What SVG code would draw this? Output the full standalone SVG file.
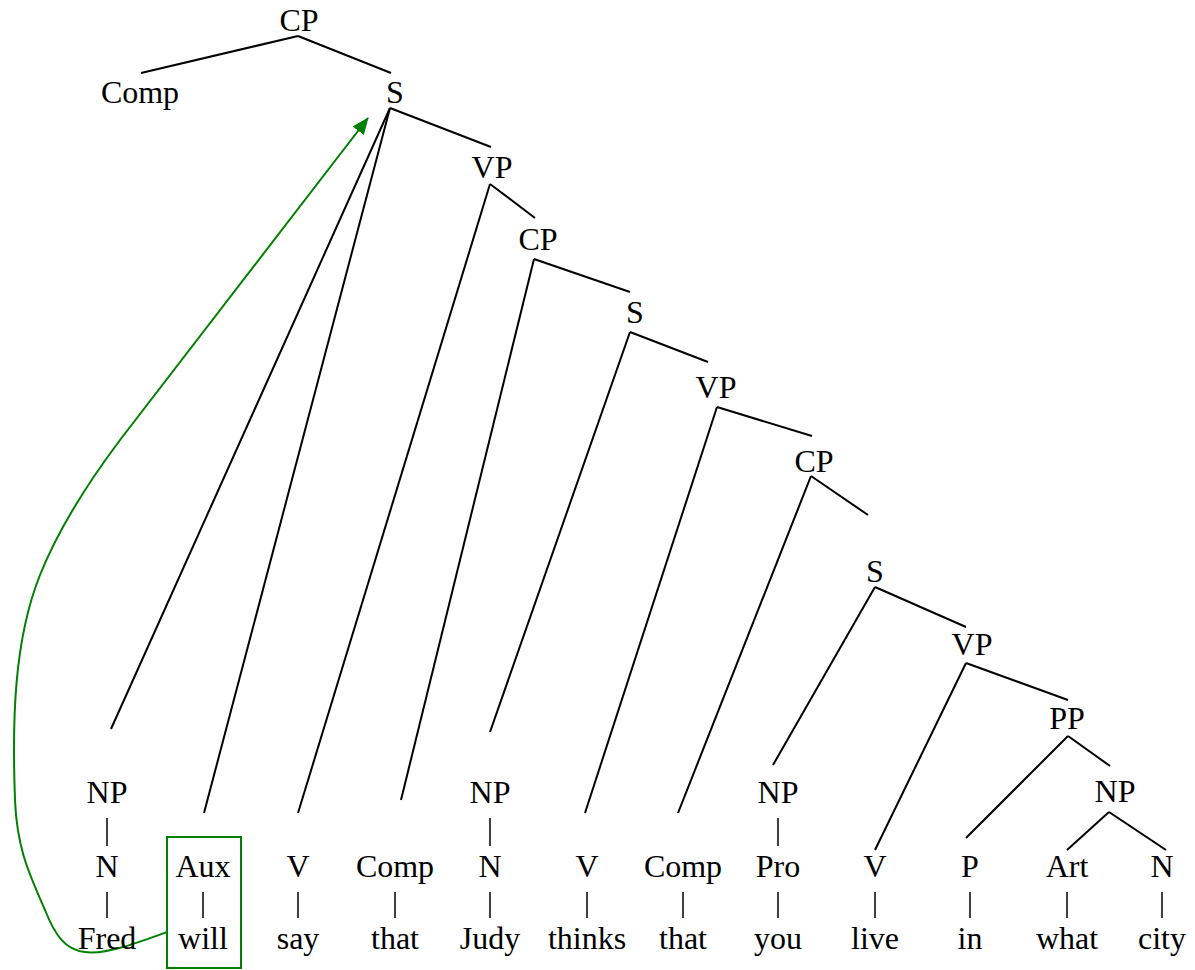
<svg xmlns="http://www.w3.org/2000/svg" width="1195" height="970" viewBox="0 0 1195 970">
<style>
text{font-family:"Liberation Serif","Times New Roman",serif;font-size:32px;fill:#000;text-anchor:middle}
.e{stroke:#000;stroke-width:2;fill:none}
.b{stroke:#000;stroke-width:1.5;fill:none}
.g{stroke:#008000;stroke-width:2;fill:none}
</style>
<defs>
<marker id="ah" markerUnits="userSpaceOnUse" markerWidth="18" markerHeight="14" refX="16" refY="7" orient="auto">
<path d="M0,0 L17,7 L0,14 z" fill="#008000"/>
</marker>
</defs>
<rect width="1195" height="970" fill="#fff"/>
<g id="connectors">
<line class="e" x1="298" y1="36" x2="141" y2="73"/>
<line class="e" x1="298" y1="36" x2="391" y2="73"/>
<line class="e" x1="390" y1="108" x2="491" y2="147"/>
<line class="e" x1="390" y1="108" x2="111" y2="729"/>
<line class="e" x1="390" y1="108" x2="204" y2="813"/>
<line class="e" x1="490" y1="184" x2="535" y2="218"/>
<line class="e" x1="490" y1="184" x2="298" y2="813"/>
<line class="e" x1="534" y1="259" x2="630" y2="292"/>
<line class="e" x1="534" y1="259" x2="401" y2="800"/>
<line class="e" x1="630" y1="332" x2="708" y2="362"/>
<line class="e" x1="630" y1="332" x2="490" y2="732"/>
<line class="e" x1="717" y1="407" x2="812" y2="436"/>
<line class="e" x1="717" y1="407" x2="585" y2="813"/>
<line class="e" x1="811" y1="476" x2="868" y2="515"/>
<line class="e" x1="811" y1="476" x2="678" y2="813"/>
<line class="e" x1="875" y1="587" x2="966" y2="627"/>
<line class="e" x1="875" y1="587" x2="773" y2="765"/>
<line class="e" x1="966" y1="663" x2="1068" y2="700"/>
<line class="e" x1="966" y1="663" x2="875" y2="850"/>
<line class="e" x1="1068" y1="736" x2="1110" y2="766"/>
<line class="e" x1="1068" y1="736" x2="966" y2="838"/>
<line class="e" x1="1109" y1="812" x2="1067" y2="850"/>
<line class="e" x1="1109" y1="812" x2="1166" y2="850"/>
<line class="b" x1="107" y1="818" x2="107" y2="846"/>
<line class="b" x1="490" y1="818" x2="490" y2="846"/>
<line class="b" x1="778" y1="818" x2="778" y2="846"/>
<line class="b" x1="107" y1="892" x2="107" y2="918"/>
<line class="b" x1="203" y1="892" x2="203" y2="918"/>
<line class="b" x1="298" y1="892" x2="298" y2="918"/>
<line class="b" x1="395" y1="892" x2="395" y2="918"/>
<line class="b" x1="490" y1="892" x2="490" y2="918"/>
<line class="b" x1="587" y1="892" x2="587" y2="918"/>
<line class="b" x1="683" y1="892" x2="683" y2="918"/>
<line class="b" x1="778" y1="892" x2="778" y2="918"/>
<line class="b" x1="875" y1="892" x2="875" y2="918"/>
<line class="b" x1="970" y1="892" x2="970" y2="918"/>
<line class="b" x1="1067" y1="892" x2="1067" y2="918"/>
<line class="b" x1="1162" y1="892" x2="1162" y2="918"/>
<path class="g" d="M167,932 C140,942 105,955 85,952 C65,950 55,935 45,910 C30,875 17,850 15,800 C12,720 14,640 40,575 C60,525 90,480 120,440 L368,118" marker-end="url(#ah)"/>
</g>
<g id="n-cp1"><text x="299" y="31">CP</text></g>
<g id="n-comp1"><text x="140" y="103">Comp</text></g>
<g id="n-s1"><text x="395" y="103">S</text></g>
<g id="n-vp1"><text x="492" y="178">VP</text></g>
<g id="n-cp2"><text x="538" y="250">CP</text></g>
<g id="n-s2"><text x="635" y="323">S</text></g>
<g id="n-vp2"><text x="716" y="398">VP</text></g>
<g id="n-cp3"><text x="814" y="472">CP</text></g>
<g id="n-s3"><text x="875" y="582">S</text></g>
<g id="n-vp3"><text x="972" y="655">VP</text></g>
<g id="n-pp"><text x="1067" y="729">PP</text></g>
<g id="n-np-fred"><text x="107" y="803">NP</text></g>
<g id="n-np-judy"><text x="490" y="803">NP</text></g>
<g id="n-np-you"><text x="778" y="803">NP</text></g>
<g id="n-np-city"><text x="1115" y="802">NP</text></g>
<g id="c-n1"><text x="107" y="877">N</text></g>
<g id="c-aux"><rect x="167" y="837" width="74" height="131" fill="none" stroke="#008000" stroke-width="2"/><text x="203" y="877">Aux</text></g>
<g id="c-v1"><text x="298" y="877">V</text></g>
<g id="c-comp2"><text x="395" y="877">Comp</text></g>
<g id="c-n2"><text x="490" y="877">N</text></g>
<g id="c-v2"><text x="587" y="877">V</text></g>
<g id="c-comp3"><text x="683" y="877">Comp</text></g>
<g id="c-pro"><text x="778" y="877">Pro</text></g>
<g id="c-v3"><text x="875" y="877">V</text></g>
<g id="c-p"><text x="970" y="877">P</text></g>
<g id="c-art"><text x="1067" y="877">Art</text></g>
<g id="c-n3"><text x="1162" y="877">N</text></g>
<g id="w-fred"><text x="107" y="949">Fred</text></g>
<g id="w-will"><text x="203" y="949">will</text></g>
<g id="w-say"><text x="298" y="949">say</text></g>
<g id="w-that1"><text x="395" y="949">that</text></g>
<g id="w-judy"><text x="490" y="949">Judy</text></g>
<g id="w-thinks"><text x="587" y="949">thinks</text></g>
<g id="w-that2"><text x="683" y="949">that</text></g>
<g id="w-you"><text x="778" y="949">you</text></g>
<g id="w-live"><text x="875" y="949">live</text></g>
<g id="w-in"><text x="970" y="949">in</text></g>
<g id="w-what"><text x="1067" y="949">what</text></g>
<g id="w-city"><text x="1162" y="949">city</text></g>
</svg>
